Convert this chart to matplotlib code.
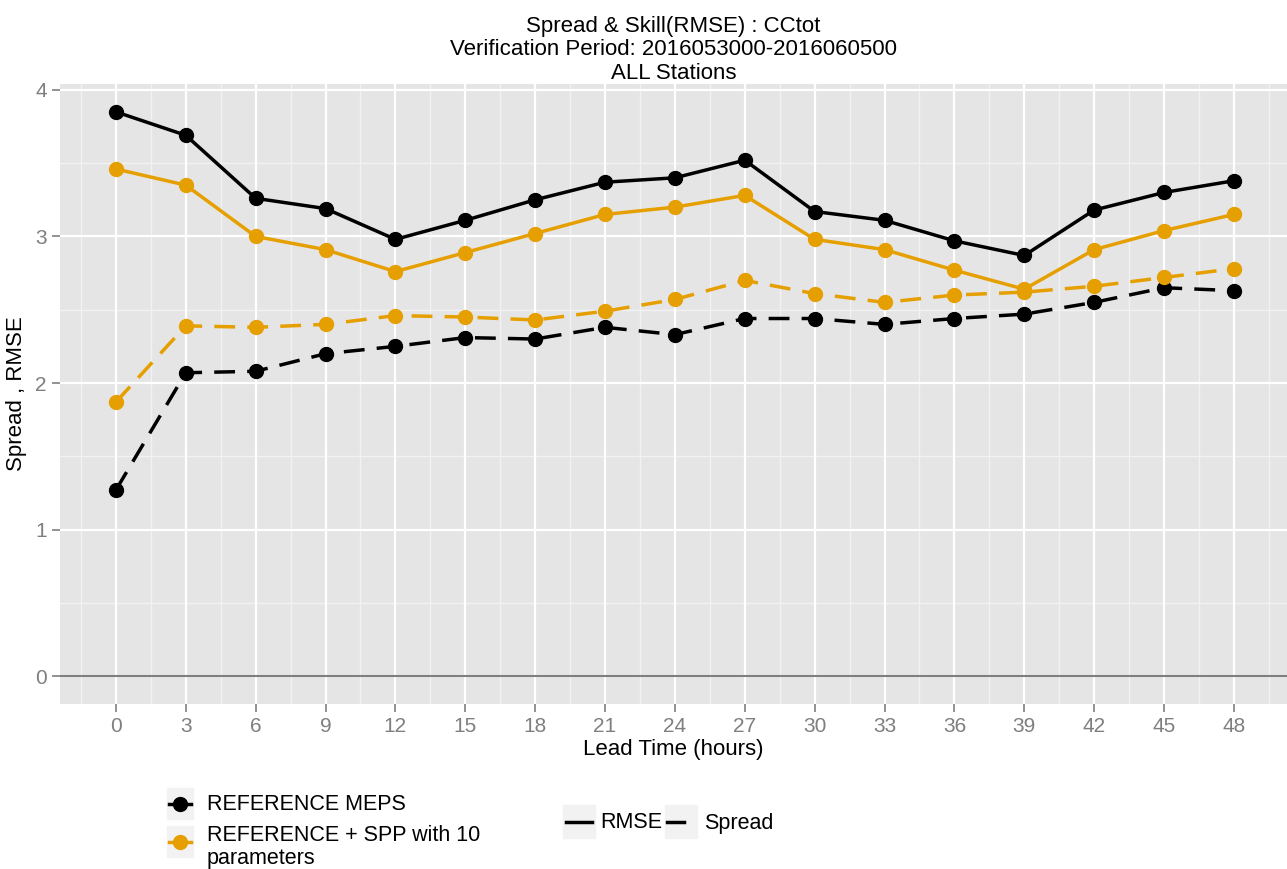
import matplotlib
matplotlib.use('Agg')
import matplotlib.pyplot as plt
from matplotlib.patches import Rectangle
from matplotlib.lines import Line2D

plt.rcParams['font.family'] = ['Liberation Sans', 'DejaVu Sans']

# Datos
lead_time = [0, 3, 6, 9, 12, 15, 18, 21, 24, 27, 30, 33, 36, 39, 42, 45, 48]
rmse_ref = [3.85, 3.69, 3.26, 3.19, 2.98, 3.11, 3.25, 3.37, 3.40, 3.52,
            3.17, 3.11, 2.97, 2.87, 3.18, 3.30, 3.38]
rmse_spp = [3.46, 3.35, 3.00, 2.91, 2.76, 2.89, 3.02, 3.15, 3.20, 3.28,
            2.98, 2.91, 2.77, 2.64, 2.91, 3.04, 3.15]
spread_ref = [1.27, 2.07, 2.08, 2.20, 2.25, 2.31, 2.30, 2.38, 2.33, 2.44,
              2.44, 2.40, 2.44, 2.47, 2.55, 2.65, 2.63]
spread_spp = [1.87, 2.39, 2.38, 2.40, 2.46, 2.45, 2.43, 2.49, 2.57, 2.70,
              2.61, 2.55, 2.60, 2.62, 2.66, 2.72, 2.78]
y_ticks = [0, 1, 2, 3, 4]

negro = 'black'
naranja = '#E69F00'
gris_texto = '#7F7F7F'
dash = (0, (6, 3.5))
lw = 2.5

fig = plt.figure(figsize=(12.87, 8.69), dpi=100)
ax = fig.add_axes([60 / 1287, (869 - 704) / 869, 1 - 60 / 1287, 620 / 869])
ax.set_facecolor('#E5E5E5')
for s in ax.spines.values():
    s.set_visible(False)

# rejilla estilo ggplot
for x in [v - 1.5 for v in lead_time] + [49.5]:
    ax.axvline(x, color='#F2F2F2', lw=1, zorder=0)
for y in [0.5, 1.5, 2.5, 3.5]:
    ax.axhline(y, color='#F2F2F2', lw=1, zorder=0)
for x in lead_time:
    ax.axvline(x, color='white', lw=1.6, zorder=0.5)
for y in y_ticks:
    ax.axhline(y, color='white', lw=1.6, zorder=0.5)
ax.axhline(0, color='#7F7F7F', lw=1.5, zorder=1)

kw = dict(lw=lw, marker='o', markersize=10, zorder=3)
ax.plot(lead_time, rmse_ref, color=negro, **kw)
ax.plot(lead_time, rmse_spp, color=naranja, **kw)
ax.plot(lead_time, spread_ref, color=negro, linestyle=dash, **kw)
ax.plot(lead_time, spread_spp, color=naranja, linestyle=dash, **kw)

ax.set_xlim(-2.4, 50.28)
ax.set_ylim(-0.19, 4.04)
ax.set_xticks(lead_time)
ax.set_yticks(y_ticks)
ax.tick_params(colors=gris_texto, labelsize=15, length=6, width=1.2, pad=3.5)
ax.set_xlabel('Lead Time (hours)', fontsize=16, labelpad=2)
ax.set_ylabel('Spread , RMSE', fontsize=16, labelpad=6)
ax.set_title('Spread & Skill(RMSE) : CCtot\nVerification Period: 2016053000-2016060500\nALL Stations',
             fontsize=16, linespacing=1.17, pad=3)

# leyendas dibujadas a mano (coordenadas en pixeles de figura)
def px(x, y):
    return x / 1287, 1 - y / 869

def clave(x0, y0, w, h, color, punto, x1=None, x2=None):
    fig.patches.append(Rectangle(px(x0, y0 + h), w / 1287, h / 869,
                                 transform=fig.transFigure, color='#F2F2F2', zorder=1))
    yc = y0 + h / 2
    xa = x0 + 2 if x1 is None else x1
    xb = x0 + w - 2 if x2 is None else x2
    fig.lines.append(Line2D([px(xa, yc)[0], px(xb, yc)[0]], [px(xa, yc)[1]] * 2,
                            transform=fig.transFigure, color=color, lw=lw, zorder=2))
    if punto:
        fig.lines.append(Line2D([px(x0 + w / 2, yc)[0]], [px(x0 + w / 2, yc)[1]],
                                transform=fig.transFigure, color=color, marker='o',
                                markersize=10, zorder=3))

clave(167, 788, 26, 31, negro, True)
fig.text(*px(207, 804), 'REFERENCE MEPS', fontsize=15.5, va='center')
clave(167, 826, 26, 31, naranja, True)
fig.text(*px(207, 847), 'REFERENCE + SPP with 10\nparameters', fontsize=15.5, va='center',
         linespacing=1.12)

clave(563, 805, 32, 33, negro, False, 566, 592)
fig.text(*px(600, 823), 'RMSE', fontsize=15.5, va='center')
clave(665, 805, 32, 33, negro, False, 667, 684)
fig.text(*px(704, 823), 'Spread', fontsize=15.5, va='center')

fig.savefig('out.png', dpi=100)
